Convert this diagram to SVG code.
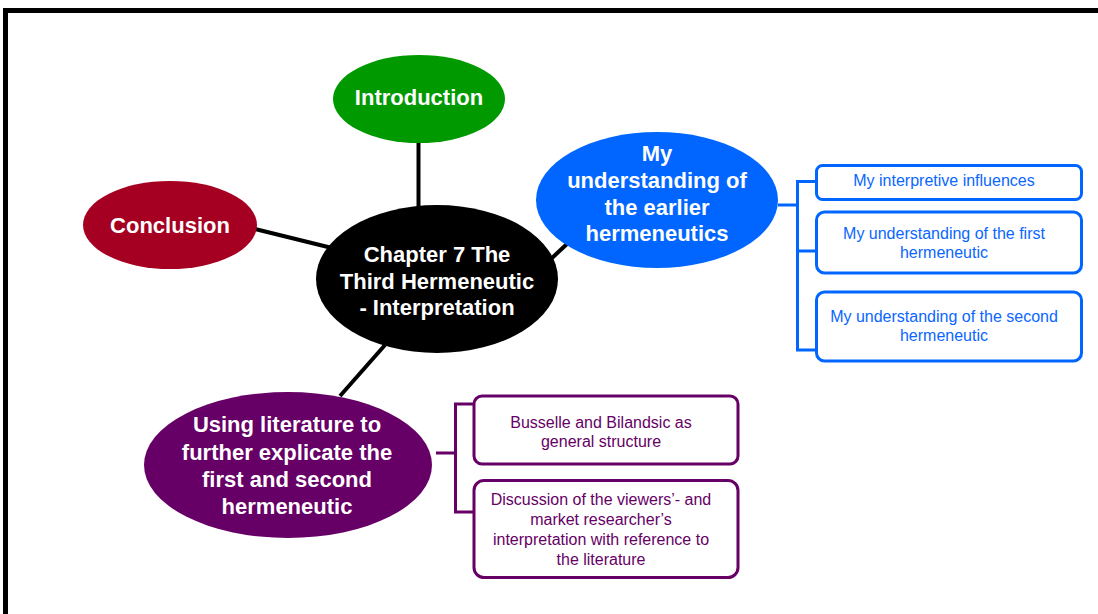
<svg xmlns="http://www.w3.org/2000/svg" width="1098" height="614" viewBox="0 0 1098 614">
  <style>
    .hub { font-family: "Liberation Sans", Arial, sans-serif; font-size: 22px; font-weight: bold; fill: #ffffff; text-anchor: middle; }
    .sub { font-family: "Liberation Sans", Arial, sans-serif; font-size: 16px; text-anchor: middle; }
    .blue-t { fill: #0a66ff; }
    .purp-t { fill: #660066; }
    .spoke { stroke: #000000; stroke-width: 4; fill: none; }
    .blue-box { fill: #ffffff; stroke: #0066ff; stroke-width: 3; }
    .purp-box { fill: #ffffff; stroke: #660066; stroke-width: 3; }
    .blue-br { stroke: #0066ff; stroke-width: 3; fill: none; }
    .purp-br { stroke: #660066; stroke-width: 3; fill: none; }
  </style>
  <rect width="1098" height="614" fill="#ffffff"/>
  <!-- page frame -->
  <path d="M5.5,614 V10.5 H1098" fill="none" stroke="#000000" stroke-width="5"/>

  <!-- connectors -->
  <g id="connectors">
    <line class="spoke" x1="418.5" y1="142" x2="418.5" y2="208"/>
    <line class="spoke" x1="255" y1="229" x2="332" y2="248"/>
    <line class="spoke" x1="552" y1="258" x2="568" y2="243"/>
    <line class="spoke" x1="385" y1="345" x2="340" y2="396"/>
    <path class="blue-br" d="M778,205 H797.5 M816.5,181.5 H797.5 V350 H816.5 M797.5,251 H816.5"/>
    <path class="purp-br" d="M436,453 H455.5 M473.5,404 H455.5 V512 H473.5"/>
  </g>

  <g id="introduction">
    <ellipse cx="419" cy="99" rx="86" ry="44" fill="#009900"/>
    <text class="hub" x="419" y="105">Introduction</text>
  </g>

  <g id="conclusion">
    <ellipse cx="170" cy="225" rx="87" ry="44" fill="#a50021"/>
    <text class="hub" x="170" y="232.5">Conclusion</text>
  </g>

  <g id="chapter">
    <ellipse cx="437" cy="279" rx="121" ry="74" fill="#000000"/>
    <text class="hub" x="437" y="262">Chapter 7 The</text>
    <text class="hub" x="437" y="288.5">Third Hermeneutic</text>
    <text class="hub" x="437" y="315">- Interpretation</text>
  </g>

  <g id="earlier-hermeneutics">
    <ellipse cx="657" cy="200" rx="121" ry="68" fill="#0066ff"/>
    <text class="hub" x="657" y="161">My</text>
    <text class="hub" x="657" y="188">understanding of</text>
    <text class="hub" x="657" y="214.5">the earlier</text>
    <text class="hub" x="657" y="241">hermeneutics</text>
  </g>

  <g id="using-literature">
    <ellipse cx="288" cy="465" rx="144" ry="73" fill="#660066"/>
    <text class="hub" x="287" y="432">Using literature to</text>
    <text class="hub" x="287" y="459.5">further explicate the</text>
    <text class="hub" x="287" y="487">first and second</text>
    <text class="hub" x="287" y="514">hermeneutic</text>
  </g>

  <g id="interpretive-influences">
    <rect class="blue-box" x="816.5" y="165.5" width="265" height="34" rx="6"/>
    <text class="sub blue-t" x="944" y="186">My interpretive influences</text>
  </g>

  <g id="first-hermeneutic">
    <rect class="blue-box" x="816.5" y="212" width="265" height="61" rx="8"/>
    <text class="sub blue-t" x="944" y="238.5">My understanding of the first</text>
    <text class="sub blue-t" x="944" y="257.5">hermeneutic</text>
  </g>

  <g id="second-hermeneutic">
    <rect class="blue-box" x="816.5" y="292" width="265" height="69" rx="8"/>
    <text class="sub blue-t" x="944" y="321.5">My understanding of the second</text>
    <text class="sub blue-t" x="944" y="341">hermeneutic</text>
  </g>

  <g id="busselle-bilandsic">
    <rect class="purp-box" x="474" y="396" width="264" height="68" rx="8"/>
    <text class="sub purp-t" x="601" y="427.5">Busselle and Bilandsic as</text>
    <text class="sub purp-t" x="601" y="447">general structure</text>
  </g>

  <g id="discussion">
    <rect class="purp-box" x="474" y="480.5" width="264" height="97" rx="10"/>
    <text class="sub purp-t" x="601" y="505">Discussion of the viewers’- and</text>
    <text class="sub purp-t" x="601" y="525">market researcher’s</text>
    <text class="sub purp-t" x="601" y="545">interpretation with reference to</text>
    <text class="sub purp-t" x="601" y="564.5">the literature</text>
  </g>
</svg>
